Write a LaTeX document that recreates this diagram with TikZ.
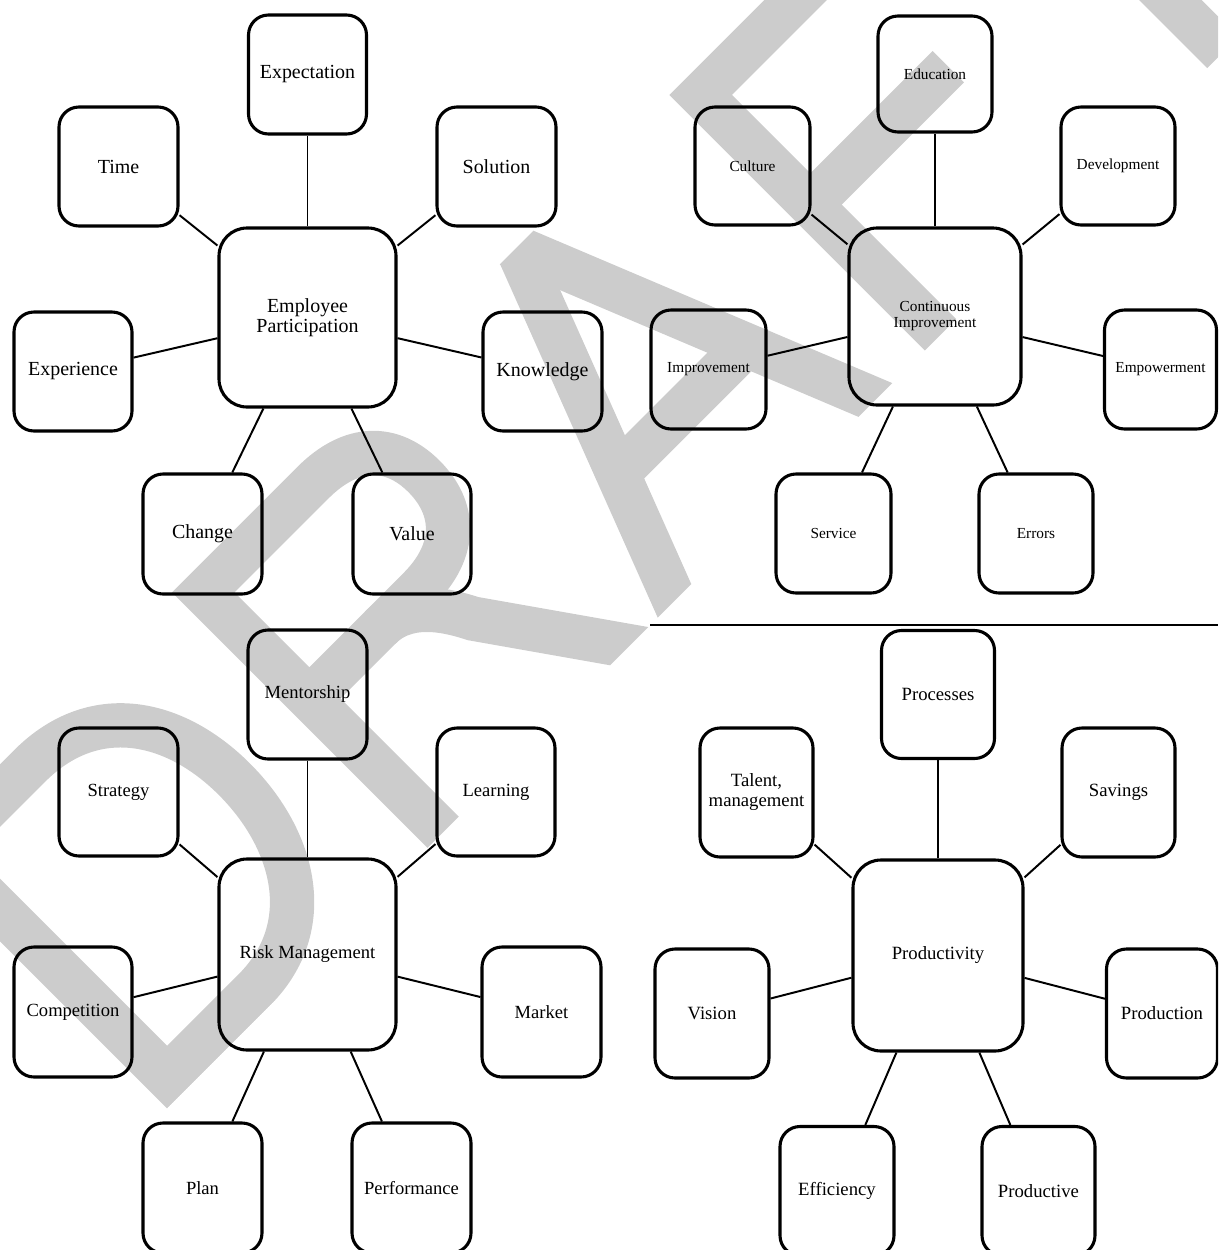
\documentclass[tikz,border=0pt]{standalone}
\usepackage{fontspec}
\setmainfont{Liberation Serif}
\begin{document}
\begin{tikzpicture}[x=0.025cm,y=-0.025cm,
  box/.style={draw=black, line width=2.2pt, rounded corners=0.5cm, inner sep=0pt, align=center, text=black},
  hub/.style={box, rounded corners=0.7cm},
  sz/.style 2 args={minimum width=#1*0.025cm, minimum height=#2*0.025cm},
  qa/.style={font=\fontsize{14.2}{14.4}\selectfont},
  qb/.style={font=\fontsize{10.9}{11.4}\selectfont},
  qc/.style={font=\fontsize{13.2}{14}\selectfont},
  qd/.style={font=\fontsize{13.3}{14.2}\selectfont},
  link/.style={draw=black, line width=1.4pt},
  vlink/.style={draw=black, line width=0.9pt},
  wm/.style={draw=black!20, line width=31.5pt, line join=miter, line cap=butt},
]
\useasboundingbox (0,0) rectangle (1218,1250);
\clip (0,0) rectangle (1218,1250);

% watermark DRAFT (letter frame: u along the baseline, v above it)
\begin{scope}[shift={(15.9375cm,-15.9375cm)}, x={(0.0176777cm,0.0176777cm)}, y={(-0.0176777cm,0.0176777cm)}]
  \clip (-1200,0) -- (1400,0) -- (1400,361) -- (-1200,361) -- cycle;
  \draw[wm] (-643,22) -- (-520,22) .. controls (-430,22) and (-385,100) .. (-385,185) .. controls (-385,270) and (-430,339) .. (-520,339) -- (-643,339) -- cycle;
  \draw[wm] (-275,-30) -- (-275,339) -- (-120,339) .. controls (-65,339) and (-37,310) .. (-37,265) .. controls (-37,220) and (-65,189) .. (-120,189) -- (-275,189);
  \draw[wm] (-175,189) .. controls (-140,189) and (-118,160) .. (-103,130) -- (2,-20);
  \draw[wm] (44.4,-20) -- (205.3,400);
  \draw[wm] (344,-20) -- (174.4,400);
  \draw[wm] (95,130) -- (290,130);
  \draw[wm] (428,-30) -- (428,339) -- (720,339);
  \draw[wm] (428,184) -- (623,184);
  \draw[wm] (827,-30) -- (827,339);
  \draw[wm] (680,339) -- (980,339);
\end{scope}

% separator
\coordinate (sepL) at (650,625);
\coordinate (sepR) at (1218,625);
\draw[line width=1pt] (sepL) -- (sepR);

% Quadrant 1
\node[hub,qa,sz={177}{179}] (ep) at (307.5,317.5) {Employee\\Participation};
\node[box,qa,sz={118}{119}] (expectation) at (307.5,74.5) {Expectation};
\node[box,qa,sz={119}{119}] (time) at (118.5,166.5) {Time};
\node[box,qa,sz={119}{119}] (solution) at (496.5,166.5) {Solution};
\node[box,qa,sz={118}{119}] (experience) at (73,371.5) {Experience};
\node[box,qa,sz={119}{119}] (knowledge) at (542.5,371.5) {Knowledge};
\node[box,qa,sz={119}{120}] (change) at (202.5,534) {Change};
\node[box,qa,sz={118}{120}] (value) at (412,534) {Value};
\draw[vlink] (ep) -- (expectation);
\draw[link] (ep) -- (time);
\draw[link] (ep) -- (solution);
\draw[link] (ep) -- (experience);
\draw[link] (ep) -- (knowledge);
\draw[link] (ep) -- (change);
\draw[link] (ep) -- (value);

% Quadrant 2
\node[hub,qb,sz={172}{177}] (ci) at (935,316.5) {Continuous\\Improvement};
\node[box,qb,sz={114}{116}] (education) at (935,74) {Education};
\node[box,qb,sz={115}{118}] (culture) at (752.5,166) {Culture};
\node[box,qb,sz={114}{118}] (development) at (1118,166) {Development};
\node[box,qb,sz={115}{119}] (improvement) at (708.5,369.5) {Improvement};
\node[box,qb,sz={112}{119}] (empowerment) at (1160.5,369.5) {Empowerment};
\node[box,qb,sz={115}{119}] (service) at (833.5,533.5) {Service};
\node[box,qb,sz={114}{119}] (errors) at (1036,533.5) {Errors};
\draw[vlink] (ci) -- (education);
\draw[link] (ci) -- (culture);
\draw[link] (ci) -- (development);
\draw[link] (ci) -- (improvement);
\draw[link] (ci) -- (empowerment);
\draw[link] (ci) -- (service);
\draw[link] (ci) -- (errors);

% Quadrant 3
\node[hub,qc,sz={177}{191}] (rm) at (307.5,954.5) {Risk Management};
\node[box,qc,sz={119}{129}] (mentorship) at (307.5,694.5) {Mentorship};
\node[box,qc,sz={119}{128}] (strategy) at (118.5,792) {Strategy};
\node[box,qc,sz={118}{128}] (learning) at (496,792) {Learning};
\node[box,qc,sz={118}{130}] (competition) at (73,1012) {Competition};
\node[box,qc,sz={119}{130}] (market) at (541.5,1012) {Market};
\node[box,qc,sz={119}{130}] (plan) at (202.5,1188) {Plan};
\node[box,qc,sz={119}{130}] (performance) at (411.5,1188) {Performance};
\draw[vlink] (rm) -- (mentorship);
\draw[link] (rm) -- (strategy);
\draw[link] (rm) -- (learning);
\draw[link] (rm) -- (competition);
\draw[link] (rm) -- (market);
\draw[link] (rm) -- (plan);
\draw[link] (rm) -- (performance);

% Quadrant 4
\node[hub,qd,sz={170}{191}] (prod) at (938,955.5) {Productivity};
\node[box,qd,sz={113}{128}] (processes) at (938,694.5) {Processes};
\node[box,qd,sz={113}{129}] (talent) at (756.5,792.5) {Talent,\\management};
\node[box,qd,sz={113}{129}] (savings) at (1118.5,792.5) {Savings};
\node[box,qd,sz={114}{129}] (vision) at (712,1013.5) {Vision};
\node[box,qd,sz={111}{129}] (production) at (1162,1013.5) {Production};
\node[box,qd,sz={114}{129}] (efficiency) at (837,1191) {Efficiency};
\node[box,qd,sz={113}{129}] (productive) at (1038.5,1191) {Productive};
\draw[vlink] (prod) -- (processes);
\draw[link] (prod) -- (talent);
\draw[link] (prod) -- (savings);
\draw[link] (prod) -- (vision);
\draw[link] (prod) -- (production);
\draw[link] (prod) -- (efficiency);
\draw[link] (prod) -- (productive);
\end{tikzpicture}
\end{document}
